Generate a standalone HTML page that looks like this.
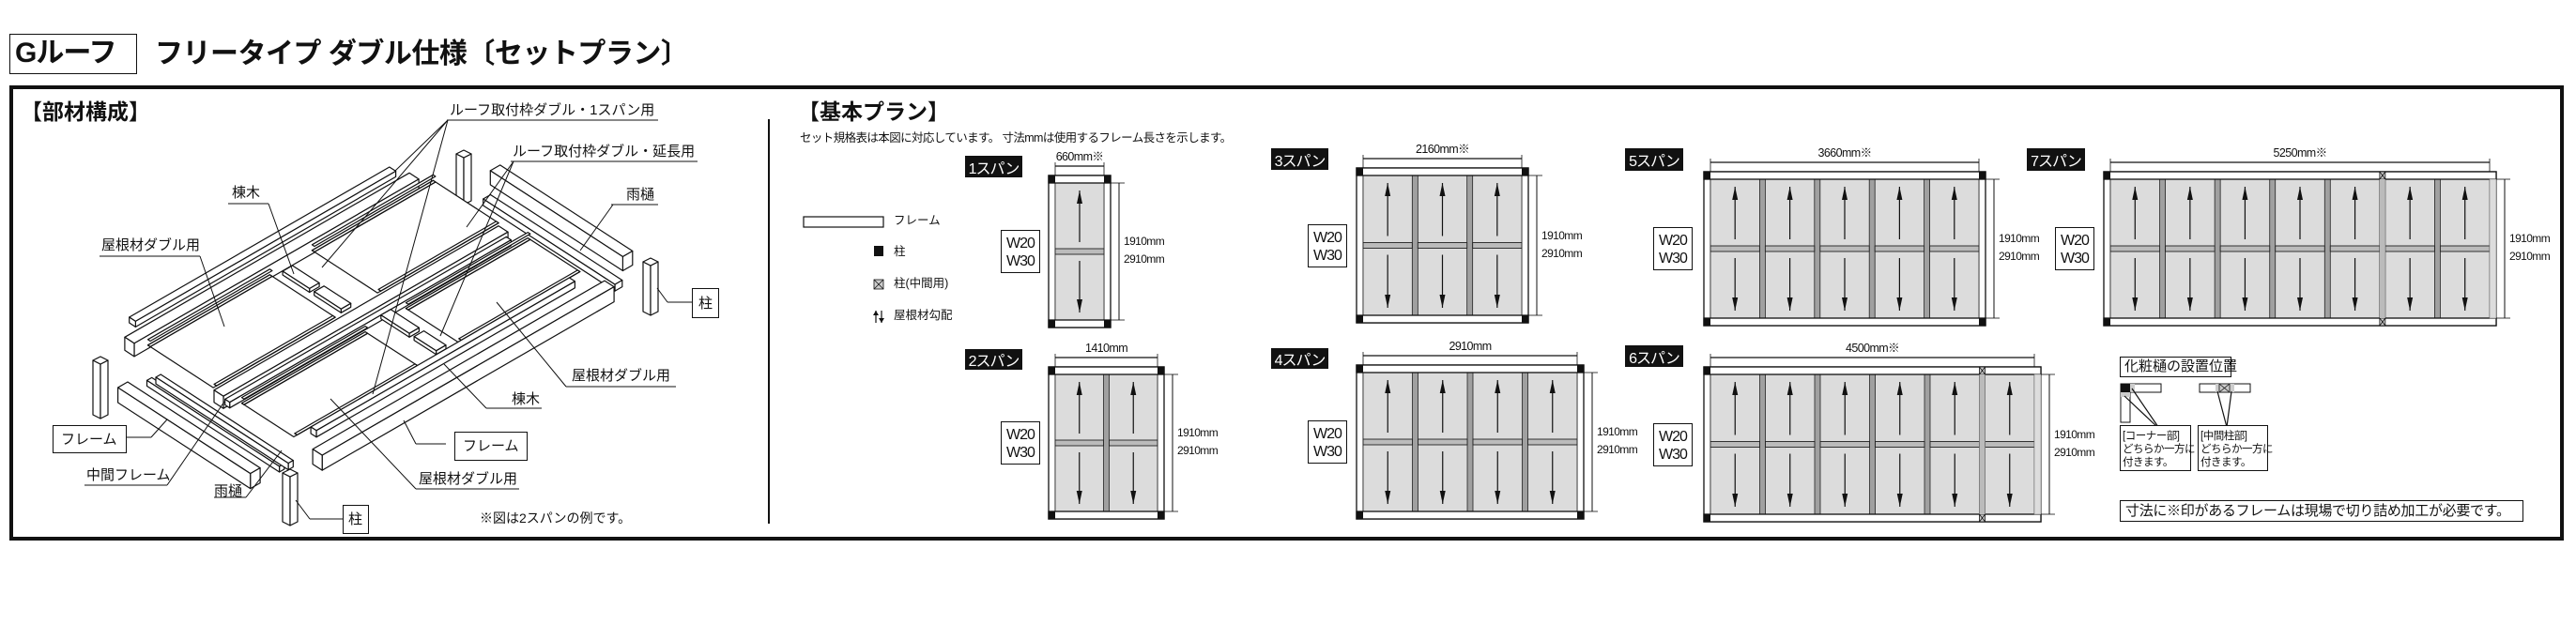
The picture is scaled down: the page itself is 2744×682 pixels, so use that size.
<!DOCTYPE html>
<html><head><meta charset="utf-8">
<style>
html,body{margin:0;padding:0;background:#fff;}
body{width:2744px;height:682px;position:relative;overflow:hidden;font-family:"Liberation Sans","Noto Sans CJK JP",sans-serif;color:#111;}
.t{position:absolute;white-space:nowrap;line-height:1;}
.lb{position:absolute;background:#111;color:#fff;font-size:16px;display:flex;align-items:center;justify-content:center;letter-spacing:-1px;}
.bx{position:absolute;border:1.5px solid #111;background:#fff;box-sizing:border-box;}
svg{position:absolute;left:0;top:0;}
</style></head><body>
<svg id="s" width="2744" height="682" viewBox="0 0 2744 682"></svg>

<div class="bx" style="left:10px;top:36px;width:136px;height:43px;border-width:1.5px"></div>
<div class="t" style="left:16px;top:42px;font-size:30px;font-weight:bold;letter-spacing:-1px">Gルーフ</div>
<div class="t" style="left:165px;top:43px;font-size:30px;font-weight:bold;letter-spacing:-0.5px">フリータイプ ダブル仕様〔セットプラン〕</div>

<div style="position:absolute;left:10px;top:91px;width:2721px;height:485px;border:4px solid #111;box-sizing:border-box"></div>
<div style="position:absolute;left:818px;top:127px;width:2px;height:431px;background:#111"></div>

<div class="t" style="left:22px;top:108px;font-size:23px;font-weight:bold">【部材構成】</div>
<div class="t" style="left:850px;top:108px;font-size:23px;font-weight:bold">【基本プラン】</div>
<div class="t" style="left:852px;top:141px;font-size:12.5px;letter-spacing:-0.6px">セット規格表は本図に対応しています。 寸法mmは使用するフレーム長さを示します。</div>

<!-- left labels -->
<div class="t" style="left:479px;top:110px;font-size:15px">ルーフ取付枠ダブル・1スパン用</div>
<div class="t" style="left:546px;top:154px;font-size:15px">ルーフ取付枠ダブル・延長用</div>
<div class="t" style="left:247px;top:198px;font-size:15px">棟木</div>
<div class="t" style="left:667px;top:200px;font-size:15px">雨樋</div>
<div class="t" style="left:108px;top:254px;font-size:15px">屋根材ダブル用</div>
<div class="bx" style="left:737px;top:307px;width:29px;height:32px"></div>
<div class="t" style="left:744px;top:316px;font-size:15px">柱</div>
<div class="t" style="left:609px;top:393px;font-size:15px">屋根材ダブル用</div>
<div class="t" style="left:545px;top:418px;font-size:15px">棟木</div>
<div class="bx" style="left:56px;top:453px;width:79px;height:30px"></div>
<div class="t" style="left:65px;top:461px;font-size:15px">フレーム</div>
<div class="bx" style="left:484px;top:460px;width:78px;height:31px"></div>
<div class="t" style="left:493px;top:468px;font-size:15px">フレーム</div>
<div class="t" style="left:92px;top:499px;font-size:15px">中間フレーム</div>
<div class="t" style="left:446px;top:503px;font-size:15px">屋根材ダブル用</div>
<div class="t" style="left:228px;top:516px;font-size:15px">雨樋</div>
<div class="bx" style="left:365px;top:538px;width:28px;height:31px"></div>
<div class="t" style="left:371px;top:546px;font-size:15px">柱</div>
<div class="t" style="left:511px;top:545px;font-size:14px">※図は2スパンの例です。</div>

<!-- legend -->
<div class="t" style="left:952px;top:229px;font-size:12.5px">フレーム</div>
<div class="t" style="left:952px;top:262px;font-size:12.5px">柱</div>
<div class="t" style="left:952px;top:296px;font-size:12.5px">柱(中間用)</div>
<div class="t" style="left:952px;top:330px;font-size:12.5px">屋根材勾配</div>

<!-- span labels -->
<div class="lb" style="left:1028px;top:166px;width:61px;height:23px">1スパン</div>
<div class="lb" style="left:1354px;top:158px;width:61px;height:23px">3スパン</div>
<div class="lb" style="left:1028px;top:372px;width:61px;height:22px">2スパン</div>
<div class="lb" style="left:1354px;top:371px;width:61px;height:22px">4スパン</div>
<div class="lb" style="left:1731px;top:158px;width:62px;height:24px">5スパン</div>
<div class="lb" style="left:2159px;top:158px;width:62px;height:24px">7スパン</div>
<div class="lb" style="left:1731px;top:368px;width:62px;height:23px">6スパン</div>

<div id="txt"></div>

<!-- gutter position -->
<div class="bx" style="left:2258px;top:380px;width:119px;height:22px"></div>
<div class="t" style="left:2263px;top:383px;font-size:15px">化粧樋の設置位置</div>
<div class="bx" style="left:2258px;top:453px;width:76px;height:49px"></div>
<div class="t" style="left:2261px;top:458px;font-size:11.5px;line-height:14px;letter-spacing:-0.5px">[コーナー部]<br>どちらか一方に<br>付きます。</div>
<div class="bx" style="left:2341px;top:453px;width:75px;height:49px"></div>
<div class="t" style="left:2344px;top:458px;font-size:11.5px;line-height:14px;letter-spacing:-0.5px">[中間柱部]<br>どちらか一方に<br>付きます。</div>
<div class="bx" style="left:2258px;top:533px;width:430px;height:23px"></div>
<div class="t" style="left:2264px;top:537px;font-size:15px;letter-spacing:-0.3px">寸法に※印があるフレームは現場で切り詰め加工が必要です。</div>

<script>
var S=document.getElementById('s'),out='';
function L(x1,y1,x2,y2,w,c){out+='<line x1="'+x1+'" y1="'+y1+'" x2="'+x2+'" y2="'+y2+'" stroke="'+(c||'#111')+'" stroke-width="'+(w||1)+'"/>';}
function R(x,y,w,h,f,s,sw){out+='<rect x="'+x+'" y="'+y+'" width="'+w+'" height="'+h+'" fill="'+f+'" stroke="'+(s||'none')+'" stroke-width="'+(sw||1)+'"/>';}
function PG(pts,f,sw){out+='<polygon points="'+pts.map(function(p){return p[0].toFixed(1)+','+p[1].toFixed(1)}).join(' ')+'" fill="'+(f||'#fff')+'" stroke="#111" stroke-width="'+(sw||1.2)+'" stroke-linejoin="round"/>';}
var T='';
function TX(x,y,s,str,anchor){T+='<div class="t" style="left:'+x+'px;top:'+y+'px;font-size:'+s+'px;letter-spacing:-0.6px;'+(anchor?'transform:translateX(-50%)':'')+'">'+str+'</div>';}
function xpost(x,y,w,h){R(x,y,w,h,'#ccc','#111',0.8);L(x,y,x+w,y+h,0.8);L(x+w,y,x,y+h,0.8);}
function arrow(x,y1,y2,hl){hl=hl||14;L(x,y1,x,y2,1.2);var d=y2>y1?1:-1;out+='<polygon points="'+(x-3)+','+(y2-d*hl)+' '+(x+3)+','+(y2-d*hl)+' '+x+','+y2+'" fill="#111"/>';}
function plan(o){
 var fx0=o.fx0,fx1=o.fx1,fy0=o.fy0,fy1=o.fy1,n=o.n,g=6;
 R(fx0,fy0,fx1-fx0,fy1-fy0,'#fff','#111',1.3);
 var px0=fx0+7,px1=fx1-7,py0=fy0+8,py1=fy1-8;
 R(px0,py0,px1-px0,py1-py0,'#a0a0a0','#111',0.8);
 var w=(px1-px0-(n-1)*g)/n,ym=(py0+py1)/2;
 for(var i=0;i<n;i++){var x=px0+i*(w+g);
  R(x,py0,w,py1-py0,'#dcdcdc','#222',0.8);
  R(x,ym-3,w,6,'#bbb','#222',0.9);
  var cx=x+w/2;arrow(cx,ym-10,py0+8);arrow(cx,ym+10,py1-8);}
 R(fx0,fy0,fx1-fx0,8,'#fff','#111',1.3);R(fx0,fy1-8,fx1-fx0,8,'#fff','#111',1.3);
 R(fx0,fy0,7,8,'#111');R(fx0,fy1-8,7,8,'#111');
 if(!o.noR){R(fx1-7,fy0,7,8,'#111');R(fx1-7,fy1-8,7,8,'#111');}else{R(fx1-7,py0,7,py1-py0,'#ddd','#888',0.6);}
 if(o.mid){var mx=px0+o.mid*(w+g)-g;xpost(mx,fy0,g,8);xpost(mx,fy1-8,g,8);R(mx,py0,g,py1-py0,'#bbb','none');}
 var dy=fy0-10;L(px0,dy,px1,dy,1.2);L(px0,dy-4,px0,fy0,0.8);L(px1,dy-4,px1,fy0,0.8);
 TX((px0+px1)/2,dy-16,12.5,o.w,1);
 var dx=fx1+9;L(dx,py0,dx,py1,1);L(fx1,py0,fx1+15,py0,0.8);L(fx1,py1,fx1+15,py1,0.8);
 TX(fx1+14,ym-17,12,'1910mm');TX(fx1+14,ym+2,12,'2910mm');
 var bx=o.wx,by=ym-23;T+='<div class="bx" style="left:'+bx+'px;top:'+by+'px;width:42px;height:46px;border-width:1.2px"></div>';
 T+='<div class="t" style="left:'+(bx+6)+'px;top:'+(by+5)+'px;font-size:16px;line-height:19px;letter-spacing:-1px">W20<br>W30</div>';
}
plan({fx0:1117,fx1:1183,fy0:187,fy1:349,n:1,w:'660mm※',wx:1066});
plan({fx0:1445,fx1:1628,fy0:179,fy1:344,n:3,w:'2160mm※',wx:1393});
plan({fx0:1117,fx1:1240,fy0:391,fy1:553,n:2,w:'1410mm',wx:1066});
plan({fx0:1445,fx1:1687,fy0:389,fy1:553,n:4,w:'2910mm',wx:1393});
plan({fx0:1815,fx1:2115,fy0:183,fy1:347,n:5,w:'3660mm※',wx:1761});
plan({fx0:2241,fx1:2659,fy0:183,fy1:347,n:7,w:'5250mm※',wx:2189,noR:1,mid:5});
plan({fx0:1815,fx1:2174,fy0:391,fy1:556,n:6,w:'4500mm※',wx:1761,noR:1,mid:5});
// legend
R(856,231,85,11,'#fff','#111',1.2);R(931,262,10,11,'#111');xpost(931,298,10,10);
arrow(933,344,331,5);arrow(939,331,344,5);
// gutter pos
R(2259,409,43,9,'#fff','#111',1);R(2259,409,10,9,'#111');R(2269,409,5,9,'#ccc');R(2259,418,10,32,'#fff','#111',1);R(2259,418,10,5,'#ccc');
L(2263,422,2298,455,1.2);L(2271,414,2299,455,1.2);
R(2343,409,54,9,'#fff','#111',1);R(2360,409,20,9,'#ccc');xpost(2364,409,11,9);
L(2362,417,2372,455,1.2);L(2377,417,2372,455,1.2);

// iso diagram
function P(a,b,c){return [136+0.866*a+0.84*b,407-0.5*a+0.545*b-c];}
function box(a0,a1,b0,b1,h){
 PG([P(a0,b0,0),P(a1,b0,0),P(a1,b1,0),P(a0,b1,0)]);
 PG([P(a0,b1,0),P(a1,b1,0),P(a1,b1,-h),P(a0,b1,-h)]);
 PG([P(a0,b0,0),P(a0,b1,0),P(a0,b1,-h),P(a0,b0,-h)]);
}
function post(x,y,w,h){var m=x+w/2;
 PG([[x,y+4],[m,y+8],[m,y+8+h],[x,y+4+h]]);PG([[m,y+8],[x+w,y+4],[x+w,y+4+h],[m,y+8+h]]);PG([[x,y+4],[m,y],[x+w,y+4],[m,y+8]]);}
function panel(a0,a1,b0,b1){
 PG([P(a0,b0,0),P(a1,b0,0),P(a1,b1,0),P(a0,b1,0)]);
 box(a0,a1,b0,b0+3,-0);box(a0+4,a1,b1-3,b1,-0);
 PG([P(a0,b0,6),P(a1,b0,6),P(a1,b0+3,6),P(a0,b0+3,6)]);
}
post(486,160,16,50);
box(448,460,-2,166,15);
box(415,424,23,190,7);
box(66,386,-66,-58,6);
box(43,393,-48,-36,14);
panel(50,200,-26,57);panel(252,401,-26,57);
box(212,224,-22,12,4);box(212,224,18,52,4);
box(48,398,60,72,13);
box(46,392,76,82,6);
panel(53,205,90,156);panel(255,405,90,156);
box(232,244,82,118,4);box(232,244,124,152,4);
post(685,275,16,53);
box(74,392,156,163,7);
box(53,412,180,192,16);
box(14,20,10,178,6);box(23,29,12,180,7);
box(-12,0,0,168,16);
post(99,380,16,58);post(301,500,16,52);
// leaders
var ld=[[476,128,701,128],[477,128,421,182],[477,128,343,285],[477,128,397,420],
[544,172,743,172],[547,172,497,242],[547,172,469,358],
[243,217,286,217],[286,217,313,292],
[651,218,701,218],[653,218,618,267],
[106,273,213,273],[213,273,239,348],
[711,322,737,322],[711,322,700,307],
[603,412,720,412],[603,412,529,322],
[518,435,577,435],[518,435,473,388],
[475,473,443,473],[443,473,430,448],
[443,521,553,521],[443,521,352,425],
[330,553,365,553],[330,553,315,533],
[228,530,262,530],[262,530,300,480],
[90,517,178,517],[178,517,239,428],
[135,466,161,466],[161,466,178,447]];
ld.forEach(function(l){L(l[0],l[1],l[2],l[3],1);});
S.innerHTML=out;
document.getElementById('txt').innerHTML=T;
</script>
</body></html>
